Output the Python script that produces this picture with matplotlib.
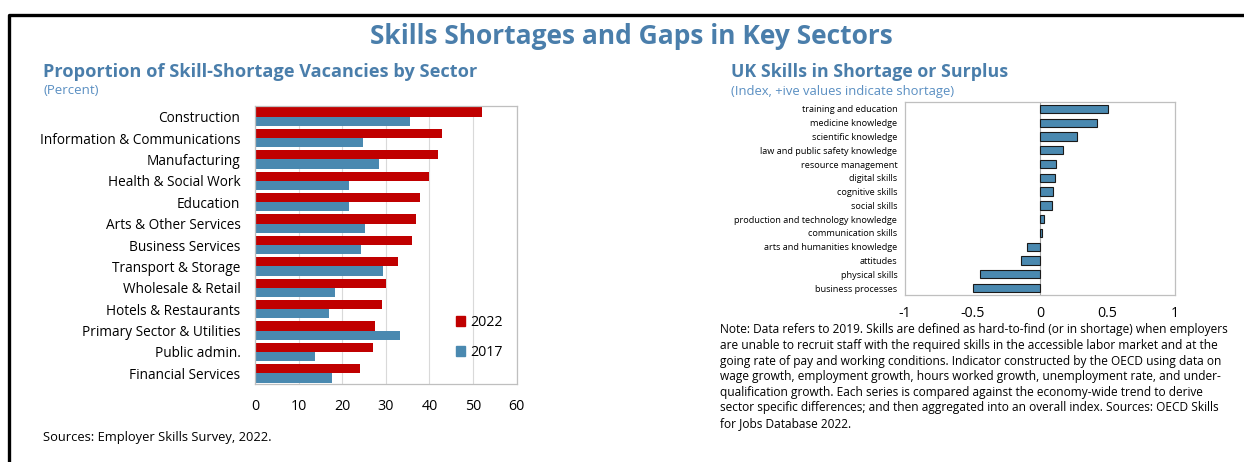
import matplotlib.pyplot as plt
import numpy as np
from matplotlib.lines import Line2D
from matplotlib.patches import Patch

plt.rcParams['font.family'] = ['Open Sans', 'DejaVu Sans']

# sector vacancies (percent)
sectors = ["Construction", "Information & Communications", "Manufacturing",
           "Health & Social Work", "Education", "Arts & Other Services",
           "Business Services", "Transport & Storage", "Wholesale & Retail",
           "Hotels & Restaurants", "Primary Sector & Utilities", "Public admin.",
           "Financial Services"]
vac_2022 = [52.1, 42.9, 42.0, 39.8, 37.8, 36.9, 36.1, 32.7, 30.0, 29.1, 27.6, 27.0, 24.0]
vac_2017 = [35.6, 24.7, 28.5, 21.6, 21.6, 25.2, 24.3, 29.3, 18.3, 17.0, 33.2, 13.8, 17.7]
left_ticks = [0, 10, 20, 30, 40, 50, 60]

# skills shortage index
skills = ["training and education", "medicine knowledge", "scientific knowledge",
          "law and public safety knowledge", "resource management", "digital skills",
          "cognitive skills", "social skills", "production and technology knowledge",
          "communication skills", "arts and humanities knowledge", "attitudes",
          "physical skills", "business processes"]
skill_index = [0.50, 0.42, 0.277, 0.173, 0.118, 0.111, 0.099, 0.091, 0.032, 0.012,
               -0.094, -0.138, -0.442, -0.499]
right_ticks = [-1, -0.5, 0, 0.5, 1]
right_ticklabels = ["-1", "-0.5", "0", "0.5", "1"]

RED = "#c00000"
BLUE = "#4a89b0"
TITLE_BLUE = "#4a7eab"
SUB_BLUE = "#5a8fc2"
W, H = 1244, 462

fig = plt.figure(figsize=(W / 100, H / 100), dpi=100)


def fx(px):
    return px / W


def fy(py):
    return 1 - py / H


# outer frame (top and left only)
fig.add_artist(Line2D([fx(9), fx(9), 1], [0, fy(14.5), fy(14.5)],
                      color="black", lw=2.4, transform=fig.transFigure))

fig.text(fx(631), fy(36), "Skills Shortages and Gaps in Key Sectors", ha="center",
         va="center", fontsize=19, fontweight="bold", color=TITLE_BLUE)

fig.text(fx(43), fy(72), "Proportion of Skill-Shortage Vacancies by Sector",
         ha="left", va="center", fontsize=13.1, fontweight="bold", color=TITLE_BLUE)
fig.text(fx(43), fy(91), "(Percent)", ha="left", va="center", fontsize=9.5,
         color=SUB_BLUE)
fig.text(fx(731), fy(72), "UK Skills in Shortage or Surplus", ha="left",
         va="center", fontsize=12.8, fontweight="bold", color=TITLE_BLUE)
fig.text(fx(731), fy(91), "(Index, +ive values indicate shortage)", ha="left",
         va="center", fontsize=9.4, color=SUB_BLUE)

# left panel: grouped horizontal bars
ax1 = fig.add_axes([fx(255), fy(384), fx(516.7 - 255), fy(106) - fy(384)])
y = np.arange(len(sectors))
h = 0.43
ax1.barh(y - h / 2, vac_2022, height=h, color=RED, zorder=2, label="2022")
ax1.barh(y + h / 2, vac_2017, height=h, color=BLUE, zorder=2, label="2017")
ax1.set_ylim(len(sectors) - 0.5, -0.5)
ax1.set_xlim(0, 60)
ax1.set_xticks(left_ticks)
ax1.set_yticks(y)
ax1.set_yticklabels(sectors, fontsize=9.8)
ax1.tick_params(axis="x", length=0, pad=10.5, labelsize=10.3)
ax1.tick_params(axis="y", length=0, pad=10.5)
ax1.grid(axis="x", color="#d9d9d9", lw=0.8, zorder=0)
for sp in ax1.spines.values():
    sp.set_color("#bfbfbf")
    sp.set_linewidth(0.9)
handles = [Patch(color=RED, label="2022"), Patch(color=BLUE, label="2017")]
ax1.legend(handles=handles, loc="lower right", bbox_to_anchor=(0.995, 0.04),
           frameon=False, fontsize=10.3, handlelength=0.65, handleheight=0.65,
           handletextpad=0.35, labelspacing=1.05)

# right panel: skills index
ax2 = fig.add_axes([fx(905), fy(295), fx(1175 - 905), fy(102) - fy(295)])
y2 = np.arange(len(skills))
ax2.barh(y2, skill_index, height=0.6, color=BLUE, edgecolor="#1a1a1a",
         linewidth=0.8, zorder=2)
ax2.axvline(0, color="#a6a6a6", lw=0.8, zorder=1)
ax2.set_ylim(len(skills) - 0.5, -0.5)
ax2.set_xlim(-1, 1)
ax2.set_xticks(right_ticks)
ax2.set_xticklabels(right_ticklabels)
ax2.set_yticks(y2)
ax2.set_yticklabels(skills, fontsize=6.6)
ax2.tick_params(axis="x", length=0, pad=8, labelsize=10.2)
ax2.tick_params(axis="y", length=0, pad=5.5)
for sp in ax2.spines.values():
    sp.set_color("#bfbfbf")
    sp.set_linewidth(0.9)

note = ("Note: Data refers to 2019. Skills are defined as hard-to-find (or in shortage) when employers\n"
        "are unable to recruit staff with the required skills in the accessible labor market and at the\n"
        "going rate of pay and working conditions. Indicator constructed by the OECD using data on\n"
        "wage growth, employment growth, hours worked growth, unemployment rate, and under-\n"
        "qualification growth. Each series is compared against the economy-wide trend to derive\n"
        "sector specific differences; and then aggregated into an overall index. Sources: OECD Skills\n"
        "for Jobs Database 2022.")
fig.text(fx(720), fy(323.5), note, ha="left", va="top", fontsize=8.6,
         linespacing=1.26)

fig.text(fx(43), fy(437), "Sources: Employer Skills Survey, 2022.", ha="left",
         va="center", fontsize=9.3)

fig.savefig("out.png", dpi=100)
